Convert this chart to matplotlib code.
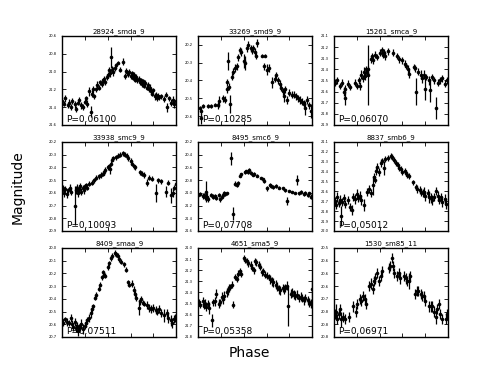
import numpy as np
import matplotlib
matplotlib.use('Agg')
import matplotlib.pyplot as plt
from matplotlib.ticker import MultipleLocator, FormatStrFormatter

# star ids and fitted periods
names = ['28924_smda_9', '33269_smd9_9', '15261_smca_9',
         '33938_smc9_9', '8495_smc6_9', '8837_smb6_9',
         '8409_smaa_9', '4651_sma5_9', '1530_sm85_11']
periods = ['0.06100', '0.10285', '0.06070',
           '0.10093', '0.07708', '0.05012',
           '0.07511', '0.05358', '0.06971']

# light curves: (phase, magnitude, error)
lc_28924 = [(0.00, 21.33, .03), (0.02, 21.36, .03), (0.03, 21.30, .04), (0.05, 21.38, .03), (0.06, 21.35, .04),
            (0.08, 21.40, .03), (0.09, 21.33, .03), (0.11, 21.37, .04), (0.12, 21.42, .03), (0.14, 21.35, .03),
            (0.15, 21.32, .03), (0.17, 21.38, .04), (0.18, 21.40, .03), (0.20, 21.34, .03), (0.21, 21.30, .03),
            (0.22, 21.36, .04), (0.24, 21.22, .05), (0.25, 21.45, .06), (0.26, 21.25, .04), (0.27, 21.20, .04),
            (0.28, 21.28, .03), (0.30, 21.20, .03), (0.31, 21.15, .04), (0.32, 21.18, .03), (0.33, 21.12, .03),
            (0.35, 21.14, .03), (0.36, 21.10, .03), (0.37, 21.08, .03), (0.38, 21.12, .03), (0.39, 21.06, .03),
            (0.40, 21.04, .03), (0.41, 20.98, .03), (0.42, 21.02, .04), (0.43, 20.84, .12), (0.44, 20.98, .04),
            (0.45, 21.00, .05), (0.46, 20.96, .03), (0.47, 20.93, .03), (0.49, 20.90, .02), (0.51, 20.98, .03),
            (0.53, 20.89, .04), (0.55, 21.05, .03), (0.56, 20.99, .03), (0.57, 21.01, .03), (0.58, 21.03, .03),
            (0.59, 21.00, .03), (0.60, 21.05, .03), (0.61, 21.02, .03), (0.62, 21.07, .03), (0.63, 21.04, .03),
            (0.64, 21.09, .03), (0.65, 21.06, .03), (0.66, 21.10, .03), (0.67, 21.08, .03), (0.68, 21.12, .03),
            (0.69, 21.10, .03), (0.70, 21.14, .03), (0.71, 21.11, .03), (0.72, 21.16, .03), (0.73, 21.13, .03),
            (0.74, 21.18, .03), (0.75, 21.15, .03), (0.76, 21.20, .03), (0.77, 21.18, .04), (0.78, 21.22, .03),
            (0.79, 21.25, .03), (0.80, 21.21, .03), (0.81, 21.28, .04), (0.82, 21.26, .03), (0.83, 21.30, .03),
            (0.84, 21.27, .03), (0.85, 21.29, .03), (0.87, 21.28, .03), (0.89, 21.31, .03), (0.91, 21.26, .03),
            (0.92, 21.40, .05), (0.94, 21.30, .03), (0.95, 21.35, .04), (0.97, 21.32, .04), (0.98, 21.37, .04),
            (1.00, 21.33, .03)]

lc_33269 = [(0.015, 20.555, .01), (0.03, 20.574, .02), (0.024, 20.612, .03), (0.044, 20.545, .01), (0.088, 20.542, .01),
            (0.118, 20.542, .01), (0.147, 20.536, .01), (0.176, 20.54, .02), (0.185, 20.517, .03), (0.22, 20.50, .02),
            (0.235, 20.507, .02), (0.25, 20.45, .02), (0.256, 20.41, .02), (0.26, 20.29, .05), (0.27, 20.435, .02),
            (0.28, 20.53, .05), (0.294, 20.38, .02), (0.31, 20.35, .02), (0.32, 20.33, .02), (0.34, 20.32, .02),
            (0.35, 20.27, .02), (0.37, 20.23, .02), (0.38, 20.24, .02), (0.40, 20.29, .04), (0.41, 20.30, .04),
            (0.43, 20.22, .02), (0.44, 20.20, .02), (0.46, 20.22, .02), (0.47, 20.23, .02), (0.485, 20.22, .02),
            (0.50, 20.24, .02), (0.51, 20.26, .02), (0.52, 20.19, .02), (0.56, 20.26, .01), (0.59, 20.26, .01),
            (0.58, 20.32, .02), (0.60, 20.34, .03), (0.62, 20.33, .02), (0.65, 20.41, .03), (0.67, 20.39, .02),
            (0.68, 20.37, .02), (0.70, 20.40, .02), (0.715, 20.42, .02), (0.73, 20.44, .02), (0.74, 20.46, .02),
            (0.75, 20.49, .03), (0.765, 20.45, .02), (0.78, 20.51, .02), (0.80, 20.47, .02), (0.82, 20.48, .02),
            (0.84, 20.48, .02), (0.86, 20.49, .02), (0.875, 20.50, .02), (0.895, 20.51, .02), (0.91, 20.52, .02),
            (0.93, 20.53, .02), (0.94, 20.555, .04), (0.95, 20.51, .02), (0.97, 20.54, .02), (0.99, 20.57, .04)]

lc_15261 = [(0.01, 21.52, .03), (0.03, 21.50, .03), (0.05, 21.55, .03), (0.07, 21.52, .03), (0.09, 21.60, .04),
            (0.095, 21.66, .06), (0.10, 21.58, .04), (0.12, 21.53, .03), (0.14, 21.56, .03), (0.18, 21.52, .03),
            (0.20, 21.55, .03), (0.22, 21.50, .03), (0.23, 21.55, .04), (0.24, 21.45, .04), (0.25, 21.48, .03),
            (0.26, 21.42, .04), (0.27, 21.46, .04), (0.28, 21.40, .03), (0.29, 21.43, .03), (0.295, 21.45, .27),
            (0.30, 21.40, .03), (0.32, 21.31, .03), (0.33, 21.28, .03), (0.34, 21.32, .03), (0.36, 21.27, .03),
            (0.38, 21.29, .03), (0.40, 21.25, .03), (0.42, 21.23, .03), (0.43, 21.27, .03), (0.44, 21.25, .03),
            (0.45, 21.28, .04), (0.47, 21.24, .03), (0.52, 21.25, .03), (0.55, 21.28, .03), (0.57, 21.31, .03),
            (0.60, 21.32, .03), (0.62, 21.35, .03), (0.63, 21.37, .03), (0.65, 21.40, .04), (0.66, 21.44, .04),
            (0.70, 21.38, .03), (0.71, 21.39, .03), (0.72, 21.60, .12), (0.74, 21.42, .03), (0.76, 21.45, .04),
            (0.77, 21.48, .04), (0.79, 21.45, .04), (0.80, 21.58, .10), (0.81, 21.47, .03), (0.83, 21.50, .04),
            (0.84, 21.59, .10), (0.86, 21.47, .03), (0.88, 21.50, .03), (0.89, 21.75, .10), (0.91, 21.52, .03),
            (0.93, 21.50, .03), (0.95, 21.48, .03), (0.97, 21.53, .03), (0.99, 21.50, .03)]

lc_33938 = [(0.00, 20.58, .02), (0.01, 20.56, .02), (0.02, 20.60, .03), (0.03, 20.57, .02), (0.04, 20.61, .03),
            (0.05, 20.58, .02), (0.07, 20.56, .03), (0.08, 20.59, .03), (0.11, 20.70, .15), (0.12, 20.58, .03),
            (0.13, 20.56, .03), (0.14, 20.60, .03), (0.15, 20.57, .03), (0.16, 20.55, .03), (0.17, 20.59, .03),
            (0.18, 20.56, .02), (0.19, 20.58, .03), (0.20, 20.55, .02), (0.21, 20.54, .02), (0.22, 20.56, .02),
            (0.24, 20.53, .02), (0.26, 20.52, .02), (0.28, 20.50, .02), (0.30, 20.48, .02), (0.32, 20.47, .02),
            (0.34, 20.46, .02), (0.36, 20.45, .02), (0.37, 20.44, .02), (0.38, 20.42, .02), (0.40, 20.40, .02),
            (0.41, 20.39, .02), (0.42, 20.41, .04), (0.43, 20.37, .02), (0.44, 20.34, .02), (0.45, 20.33, .02),
            (0.47, 20.32, .02), (0.49, 20.31, .02), (0.51, 20.30, .02), (0.53, 20.29, .02), (0.55, 20.30, .02),
            (0.57, 20.31, .02), (0.58, 20.33, .02), (0.60, 20.35, .02), (0.61, 20.37, .02), (0.63, 20.39, .02),
            (0.64, 20.40, .02), (0.68, 20.44, .02), (0.70, 20.45, .02), (0.72, 20.46, .02), (0.74, 20.52, .03),
            (0.76, 20.48, .02), (0.79, 20.49, .02), (0.82, 20.60, .07), (0.84, 20.50, .02), (0.87, 20.51, .02),
            (0.91, 20.59, .04), (0.93, 20.52, .02), (0.95, 20.62, .06), (0.97, 20.60, .03), (0.98, 20.56, .02),
            (1.00, 20.53, .02)]

lc_8495 = [(0.00, 21.04, .03), (0.02, 21.02, .03), (0.04, 21.05, .04), (0.05, 21.03, .03), (0.06, 21.07, .04),
           (0.07, 20.98, .17), (0.08, 21.06, .05), (0.09, 21.10, .05), (0.11, 21.04, .03), (0.13, 21.06, .04),
           (0.15, 21.05, .03), (0.16, 21.08, .04), (0.18, 21.04, .03), (0.19, 21.10, .04), (0.21, 21.07, .03),
           (0.22, 21.03, .03), (0.23, 21.00, .03), (0.24, 21.02, .03), (0.25, 21.01, .03), (0.29, 20.46, .10),
           (0.31, 21.33, .10), (0.32, 20.86, .04), (0.34, 20.88, .03), (0.35, 20.84, .03), (0.37, 20.73, .02),
           (0.38, 20.71, .02), (0.41, 20.68, .02), (0.42, 20.66, .02), (0.44, 20.68, .03), (0.45, 20.64, .03),
           (0.46, 20.69, .03), (0.48, 20.72, .02), (0.49, 20.70, .02), (0.52, 20.73, .02), (0.55, 20.77, .02),
           (0.57, 20.79, .02), (0.58, 20.82, .02), (0.60, 20.93, .04), (0.63, 20.87, .03), (0.64, 20.89, .03),
           (0.66, 20.91, .03), (0.68, 20.89, .03), (0.71, 20.92, .02), (0.74, 20.93, .02), (0.76, 20.96, .02),
           (0.78, 21.13, .06), (0.80, 20.97, .02), (0.82, 20.99, .02), (0.85, 21.00, .02), (0.87, 20.80, .08),
           (0.88, 21.01, .03), (0.90, 20.99, .03), (0.93, 21.02, .03), (0.94, 21.00, .03), (0.96, 21.04, .03),
           (0.97, 21.01, .03), (0.99, 21.06, .04)]

lc_8837 = [(0.01, 21.70, .04), (0.02, 21.74, .04), (0.03, 21.66, .05), (0.04, 21.72, .04), (0.05, 21.69, .05),
           (0.06, 21.85, .10), (0.07, 21.71, .04), (0.09, 21.67, .04), (0.10, 21.73, .04), (0.12, 21.69, .04),
           (0.14, 21.76, .04), (0.16, 21.79, .05), (0.17, 21.66, .04), (0.18, 21.68, .05), (0.20, 21.63, .05),
           (0.21, 21.67, .04), (0.23, 21.65, .05), (0.24, 21.69, .05), (0.26, 21.74, .06), (0.29, 21.61, .04),
           (0.31, 21.58, .04), (0.32, 21.62, .04), (0.34, 21.54, .10), (0.35, 21.45, .04), (0.36, 21.48, .04),
           (0.37, 21.39, .04), (0.38, 21.35, .04), (0.39, 21.40, .04), (0.41, 21.31, .04), (0.42, 21.29, .03),
           (0.44, 21.36, .07), (0.45, 21.27, .03), (0.47, 21.26, .03), (0.50, 21.24, .03), (0.51, 21.25, .03),
           (0.53, 21.28, .03), (0.54, 21.31, .03), (0.56, 21.33, .03), (0.57, 21.36, .03), (0.59, 21.37, .03),
           (0.60, 21.40, .03), (0.62, 21.39, .03), (0.63, 21.41, .03), (0.64, 21.43, .03), (0.66, 21.44, .03),
           (0.69, 21.51, .03), (0.72, 21.56, .03), (0.73, 21.58, .04), (0.75, 21.59, .04), (0.76, 21.61, .04),
           (0.78, 21.62, .04), (0.79, 21.61, .05), (0.80, 21.65, .05), (0.82, 21.62, .04), (0.83, 21.66, .06),
           (0.85, 21.67, .05), (0.86, 21.69, .05), (0.88, 21.66, .04), (0.89, 21.60, .04), (0.91, 21.65, .05),
           (0.92, 21.69, .04), (0.94, 21.66, .04), (0.95, 21.71, .05), (0.97, 21.68, .05), (0.98, 21.73, .05)]

lc_8409 = [(0.00, 20.57, .02), (0.01, 20.59, .02), (0.03, 20.56, .02), (0.04, 20.58, .03), (0.06, 20.59, .02),
           (0.08, 20.55, .03), (0.09, 20.60, .03), (0.10, 20.62, .03), (0.11, 20.58, .03), (0.12, 20.63, .03),
           (0.13, 20.61, .03), (0.14, 20.65, .04), (0.15, 20.63, .03), (0.16, 20.62, .03), (0.17, 20.60, .04),
           (0.18, 20.64, .04), (0.20, 20.61, .03), (0.21, 20.59, .03), (0.22, 20.57, .03), (0.24, 20.55, .03),
           (0.25, 20.51, .04), (0.26, 20.48, .03), (0.27, 20.46, .02), (0.29, 20.39, .02), (0.30, 20.37, .02),
           (0.32, 20.32, .02), (0.33, 20.29, .02), (0.35, 20.23, .02), (0.36, 20.19, .02), (0.37, 20.21, .02),
           (0.38, 20.22, .02), (0.40, 20.15, .02), (0.41, 20.12, .02), (0.43, 20.08, .02), (0.44, 20.06, .02),
           (0.46, 20.04, .02), (0.47, 20.05, .02), (0.49, 20.06, .02), (0.50, 20.09, .02), (0.52, 20.11, .02),
           (0.54, 20.13, .02), (0.56, 20.17, .02), (0.58, 20.27, .02), (0.59, 20.29, .02), (0.61, 20.28, .03),
           (0.63, 20.33, .03), (0.64, 20.36, .03), (0.65, 20.39, .03), (0.67, 20.47, .06), (0.68, 20.42, .03),
           (0.69, 20.40, .02), (0.71, 20.43, .02), (0.72, 20.44, .02), (0.74, 20.45, .03), (0.76, 20.47, .03),
           (0.78, 20.48, .03), (0.80, 20.47, .03), (0.82, 20.49, .03), (0.83, 20.50, .03), (0.85, 20.48, .03),
           (0.87, 20.51, .03), (0.89, 20.53, .05), (0.92, 20.51, .03), (0.93, 20.55, .04), (0.95, 20.57, .04),
           (0.96, 20.59, .04), (0.98, 20.56, .03), (0.99, 20.55, .03)]

lc_4651 = [(0.01, 21.49, .03), (0.02, 21.51, .03), (0.04, 21.48, .04), (0.05, 21.52, .03), (0.06, 21.50, .04),
           (0.07, 21.53, .04), (0.09, 21.50, .03), (0.10, 21.54, .05), (0.12, 21.65, .06), (0.13, 21.49, .03),
           (0.15, 21.48, .04), (0.16, 21.41, .04), (0.18, 21.50, .04), (0.19, 21.49, .03), (0.21, 21.44, .04),
           (0.22, 21.46, .04), (0.23, 21.43, .04), (0.25, 21.40, .04), (0.26, 21.38, .04), (0.27, 21.36, .04),
           (0.28, 21.35, .03), (0.30, 21.33, .03), (0.31, 21.51, .03), (0.32, 21.26, .03), (0.34, 21.28, .03),
           (0.35, 21.23, .03), (0.37, 21.21, .03), (0.38, 21.23, .03), (0.40, 21.09, .03), (0.41, 21.11, .03),
           (0.43, 21.12, .03), (0.44, 21.14, .03), (0.46, 21.15, .03), (0.47, 21.18, .03), (0.49, 21.20, .03),
           (0.50, 21.12, .03), (0.51, 21.13, .03), (0.53, 21.15, .03), (0.54, 21.17, .03), (0.56, 21.22, .03),
           (0.57, 21.21, .03), (0.59, 21.24, .03), (0.60, 21.25, .03), (0.62, 21.26, .03), (0.63, 21.28, .04),
           (0.65, 21.30, .04), (0.66, 21.31, .04), (0.68, 21.33, .04), (0.69, 21.35, .04), (0.71, 21.37, .04),
           (0.72, 21.38, .04), (0.74, 21.36, .04), (0.75, 21.37, .04), (0.76, 21.36, .04), (0.78, 21.34, .04),
           (0.79, 21.52, .18), (0.81, 21.41, .04), (0.82, 21.40, .04), (0.84, 21.42, .04), (0.85, 21.43, .04),
           (0.87, 21.42, .04), (0.88, 21.45, .04), (0.90, 21.44, .04), (0.91, 21.45, .04), (0.93, 21.47, .04),
           (0.94, 21.45, .04), (0.96, 21.47, .04), (0.97, 21.49, .04), (0.99, 21.50, .04), (0.995, 21.37, .08)]

lc_1530 = [(0.01, 20.76, .02), (0.02, 20.75, .03), (0.03, 20.78, .02), (0.04, 20.76, .02), (0.05, 20.74, .02),
           (0.06, 20.78, .03), (0.08, 20.77, .02), (0.10, 20.78, .02), (0.13, 20.77, .02), (0.17, 20.73, .02),
           (0.19, 20.75, .02), (0.20, 20.72, .02), (0.23, 20.70, .02), (0.24, 20.71, .02), (0.25, 20.69, .02),
           (0.27, 20.70, .02), (0.28, 20.72, .02), (0.31, 20.65, .02), (0.32, 20.64, .02), (0.34, 20.66, .02),
           (0.35, 20.63, .02), (0.36, 20.62, .02), (0.38, 20.60, .02), (0.39, 20.63, .02), (0.41, 20.61, .02),
           (0.42, 20.59, .02), (0.48, 20.58, .02), (0.49, 20.57, .02), (0.51, 20.54, .02), (0.52, 20.57, .02),
           (0.53, 20.60, .02), (0.55, 20.61, .02), (0.57, 20.60, .02), (0.58, 20.62, .02), (0.61, 20.61, .02),
           (0.63, 20.62, .02), (0.64, 20.63, .02), (0.66, 20.63, .03), (0.67, 20.61, .02), (0.71, 20.68, .02),
           (0.73, 20.67, .02), (0.74, 20.67, .02), (0.76, 20.68, .02), (0.77, 20.69, .02), (0.79, 20.69, .02),
           (0.80, 20.71, .02), (0.83, 20.73, .02), (0.85, 20.73, .02), (0.86, 20.73, .02), (0.88, 20.75, .02),
           (0.89, 20.77, .03), (0.90, 20.74, .02), (0.92, 20.72, .02), (0.93, 20.76, .02), (0.95, 20.78, .02),
           (0.98, 20.78, .02), (0.99, 20.76, .02)]

curves = [lc_28924, lc_33269, lc_15261, lc_33938, lc_8495, lc_8837, lc_8409, lc_4651, lc_1530]

# y ranges (faint, bright) and tick step per panel
ylims = [(21.6, 20.6), (20.65, 20.15), (21.9, 21.1),
         (20.9, 20.2), (21.6, 20.2), (22.0, 21.1),
         (20.7, 20.0), (21.8, 21.0), (20.85, 20.5)]
ysteps = [0.2, 0.1, 0.1, 0.1, 0.2, 0.1, 0.1, 0.1, 0.05]

fig, axes = plt.subplots(3, 3, figsize=(4.98, 3.74), dpi=100)
fig.subplots_adjust(left=0.1245, right=0.9, top=0.904, bottom=0.099,
                    wspace=0.19, hspace=0.19)

for i, ax in enumerate(axes.flat):
    ph, mag, err = np.array(curves[i]).T
    ax.errorbar(ph, mag, yerr=err, fmt='o', color='k', ms=2.6, elinewidth=0.9,
                capsize=0, markeredgewidth=0)
    ax.set_xlim(0, 1)
    ax.set_ylim(*ylims[i])
    ax.xaxis.set_major_locator(MultipleLocator(0.2))
    ax.set_xticklabels([])
    ax.yaxis.set_major_locator(MultipleLocator(ysteps[i]))
    ax.yaxis.set_major_formatter(FormatStrFormatter('%.1f'))
    ax.tick_params(direction='in', top=True, right=True, length=3, width=0.6,
                   labelsize=2.6, pad=4)
    for sp in ax.spines.values():
        sp.set_linewidth(1.0)
    ax.set_title(names[i], fontsize=5, pad=2)
    ax.text(0.04, 0.01, 'P=' + periods[i], transform=ax.transAxes,
            fontsize=6.5, ha='left', va='bottom')

fig.text(0.036, 0.5, 'Magnitude', rotation=90, ha='center', va='center', fontsize=10)
fig.text(0.5, 0.056, 'Phase', ha='center', va='center', fontsize=10)

fig.savefig('out.png', dpi=100)
